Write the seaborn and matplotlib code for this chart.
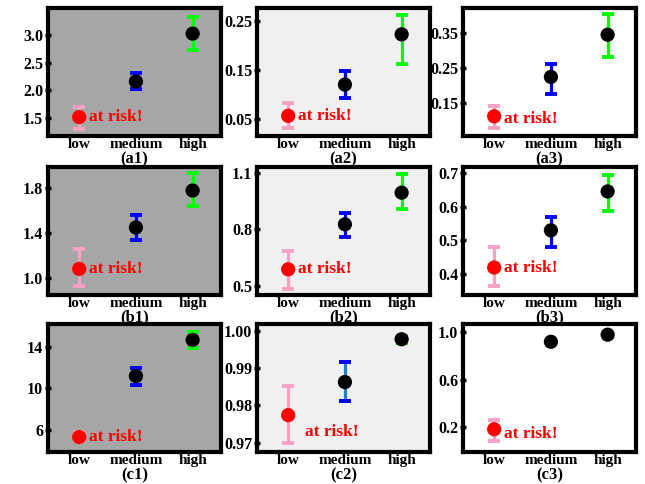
import matplotlib
matplotlib.use('Agg')
import matplotlib.pyplot as plt
import seaborn as sns
import pandas as pd
import numpy as np

# ---------- data ----------
levels = ['low', 'medium', 'high']
panel_names = ['(a1)', '(a2)', '(a3)', '(b1)', '(b2)', '(b3)', '(c1)', '(c2)', '(c3)']

mean_a1 = [1.52, 2.16, 3.02]
low_a1 = [1.31, 2.02, 2.73]
up_a1 = [1.71, 2.32, 3.32]

mean_a2 = [0.056, 0.120, 0.223]
low_a2 = [0.031, 0.093, 0.162]
up_a2 = [0.083, 0.148, 0.262]

mean_a3 = [0.112, 0.224, 0.344]
low_a3 = [0.078, 0.176, 0.282]
up_a3 = [0.140, 0.262, 0.403]

mean_b1 = [1.08, 1.45, 1.78]
low_b1 = [0.93, 1.34, 1.64]
up_b1 = [1.26, 1.56, 1.94]

mean_b2 = [0.587, 0.827, 0.996]
low_b2 = [0.484, 0.757, 0.909]
up_b2 = [0.685, 0.887, 1.094]

mean_b3 = [0.418, 0.529, 0.645]
low_b3 = [0.364, 0.480, 0.587]
up_b3 = [0.480, 0.569, 0.694]

mean_c1 = [5.3, 11.2, 14.7]
low_c1 = [5.0, 10.3, 13.9]
up_c1 = [5.8, 12.0, 15.5]

mean_c2 = [0.9774, 0.9863, 0.9978]
low_c2 = [0.9700, 0.9812, 0.9968]
up_c2 = [0.9853, 0.9918, 0.9987]

mean_c3 = [0.183, 0.92, 0.98]
low_c3 = [0.087, 0.92, 0.98]
up_c3 = [0.260, 0.92, 0.98]

means = [mean_a1, mean_a2, mean_a3, mean_b1, mean_b2, mean_b3, mean_c1, mean_c2, mean_c3]
lows = [low_a1, low_a2, low_a3, low_b1, low_b2, low_b3, low_c1, low_c2, low_c3]
ups = [up_a1, up_a2, up_a3, up_b1, up_b2, up_b3, up_c1, up_c2, up_c3]

# ---------- axis styling per panel ----------
yticks = [[1.5, 2.0, 2.5, 3.0], [0.05, 0.15, 0.25], [0.15, 0.25, 0.35],
          [1.0, 1.4, 1.8], [0.5, 0.8, 1.1], [0.4, 0.5, 0.6, 0.7],
          [6, 10, 14], [0.97, 0.98, 0.99, 1.00], [0.2, 0.6, 1.0]]
yfmt = ['%.1f', '%.2f', '%.2f', '%.1f', '%.1f', '%.1f', '%d', '%.2f', '%.1f']
ylims = [(1.18, 3.48), (0.0146, 0.277), (0.056, 0.42),
         (0.847, 1.99), (0.45, 1.133), (0.336, 0.718),
         (3.85, 16.24), (0.9675, 1.0019), (-0.009, 1.07)]
# shift of the "at risk!" note (y as a fraction of the y range)
note_dy = [0, 0, -0.02, 0, 0, 0, 0, -0.13, -0.04]
note_dx = [0.17, 0.17, 0.17, 0.17, 0.17, 0.17, 0.17, 0.3, 0.17]
face_cols = ['#a6a6a6', '#f0f0f0', '#ffffff']
bar_cols = ['#f7a1c4', '#0000ff', '#00ff00']

sns.set_theme(style='white')
plt.rcParams['font.family'] = ['Liberation Serif', 'DejaVu Serif']
plt.rcParams['font.weight'] = 'bold'

fig = plt.figure(figsize=(6.45, 4.84), dpi=100)
W, H = 645.0, 484.0
col_left = [48, 257, 463]
col_w = 173
row_top = [8, 167, 324]
row_h = 128
label_gap = [23, 22, 23]

for k in range(9):
    r, c = divmod(k, 3)
    ax = fig.add_axes([col_left[c] / W, 1 - (row_top[r] + row_h) / H, col_w / W, row_h / H])
    ax.set_facecolor(face_cols[c])

    df = pd.DataFrame({'level': levels, 'mean': means[k],
                       'lo': lows[k], 'up': ups[k]})
    df['pos'] = np.arange(len(levels))

    # error bars
    for i, row in df.iterrows():
        err = [[row['mean'] - row['lo']], [row['up'] - row['mean']]]
        lc = bar_cols[i]
        if k == 7 and i == 1:
            lc = '#1f7fcf'
        ax.errorbar(row['pos'], row['mean'], yerr=err,
                    fmt='none', ecolor=lc, elinewidth=2.3, capsize=4.2,
                    capthick=2.8, zorder=2)
        if k == 7 and i == 1:
            # caps of this bar are plain blue
            ax.errorbar(row['pos'], row['mean'], yerr=err,
                        fmt='none', ecolor='#0000ff', elinewidth=0, capsize=4.2,
                        capthick=2.8, zorder=2)

    pt_cols = ['#ff0000', '#000000', '#000000']
    sns.scatterplot(data=df, x='pos', y='mean', hue='level', palette=pt_cols,
                    s=105, edgecolor='none', legend=False, ax=ax, zorder=3)

    y0, y1 = ylims[k]
    ax.text(df['pos'][0] + note_dx[k], df['mean'][0] + note_dy[k] * (y1 - y0),
            'at risk!', color='#ff0000', fontsize=12.5, fontweight='bold',
            ha='left', va='center', zorder=4)

    ax.set_xlim(-0.55, 2.5)
    ax.set_ylim(y0, y1)
    ax.set_xticks(df['pos'])
    ax.set_xticklabels(levels)
    ax.set_yticks(yticks[k])
    ax.set_yticklabels([yfmt[k] % v for v in yticks[k]])
    ax.tick_params(axis='x', length=0, pad=1.5, labelsize=11)
    ax.tick_params(axis='y', direction='inout', length=5, width=2.5,
                   color='black', pad=1, labelsize=11.5, left=True)
    ax.set_xlabel('')
    ax.set_ylabel('')
    for lab in ax.get_xticklabels() + ax.get_yticklabels():
        lab.set_fontweight('bold')
        lab.set_color('black')

    for sp in ax.spines.values():
        sp.set_visible(True)
        sp.set_color('black')
        sp.set_linewidth(3)

    # panel label below the tick labels, drawn on the figure so the next row does not hide it
    fig.text((col_left[c] + col_w / 2) / W, 1 - (row_top[r] + row_h + label_gap[r]) / H,
             panel_names[k], ha='center', va='center', fontsize=12,
             fontweight='bold', color='black')

fig.savefig('out.png', dpi=100)
